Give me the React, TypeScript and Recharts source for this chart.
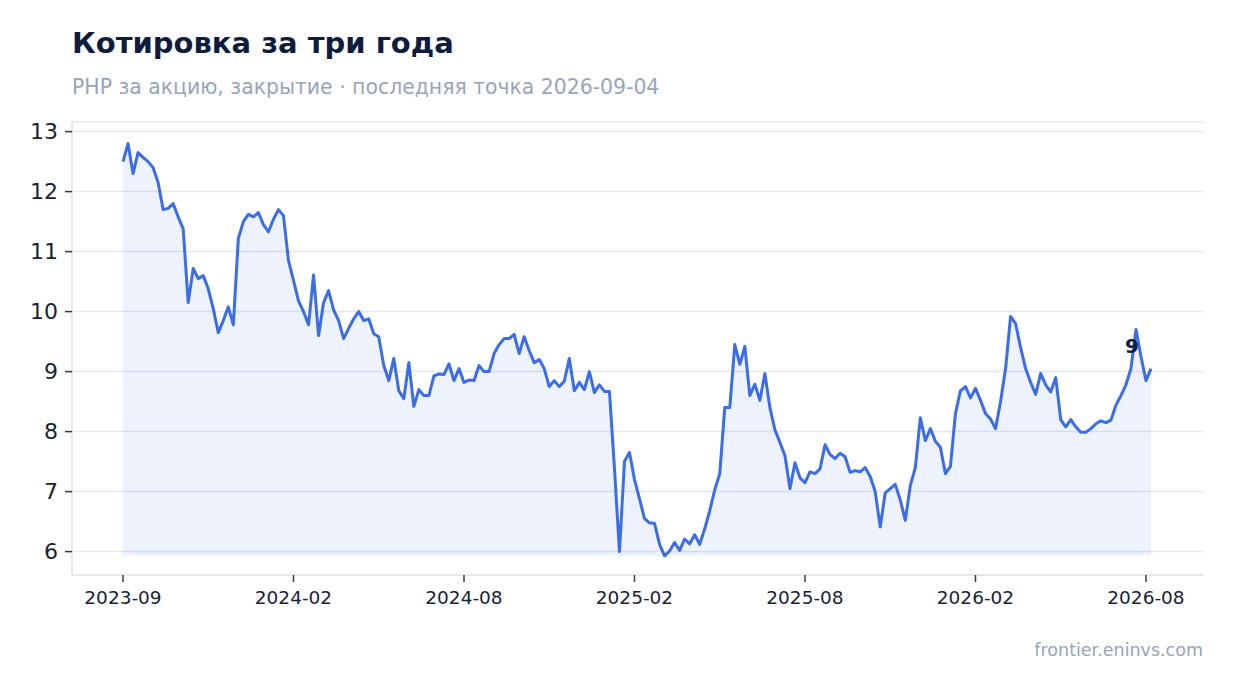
import {
  Area,
  CartesianGrid,
  ComposedChart,
  ReferenceDot,
  XAxis,
  YAxis,
} from "recharts";

// closing prices, one point per ~5 trading days
const PRICES = [
  12.5, 12.8, 12.3, 12.65, 12.57, 12.5, 12.4, 12.15, 11.7, 11.72,
  11.8, 11.58, 11.38, 10.15, 10.72, 10.55, 10.6, 10.38, 10.05, 9.65,
  9.85, 10.08, 9.78, 11.22, 11.5, 11.62, 11.58, 11.65, 11.45, 11.33,
  11.54, 11.7, 11.6, 10.85, 10.52, 10.18, 10.0, 9.78, 10.61, 9.6,
  10.15, 10.35, 10.03, 9.85, 9.55, 9.72, 9.88, 10.0, 9.85, 9.88,
  9.63, 9.58, 9.1, 8.85, 9.22, 8.68, 8.55, 9.15, 8.42, 8.7,
  8.6, 8.6, 8.93, 8.96, 8.95, 9.13, 8.85, 9.05, 8.82, 8.86,
  8.85, 9.1, 9.0, 9.0, 9.3, 9.45, 9.55, 9.55, 9.62, 9.3,
  9.58, 9.35, 9.15, 9.2, 9.05, 8.75, 8.85, 8.75, 8.84, 9.22,
  8.68, 8.82, 8.7, 9.0, 8.65, 8.78, 8.67, 8.67, 7.4, 6.0,
  7.5, 7.65, 7.2, 6.88, 6.55, 6.48, 6.47, 6.12, 5.93, 6.01,
  6.15, 6.02, 6.21, 6.13, 6.28, 6.12, 6.38, 6.68, 7.03, 7.3,
  8.4, 8.4, 9.45, 9.12, 9.42, 8.6, 8.79, 8.52, 8.97, 8.4,
  8.03, 7.82, 7.6, 7.05, 7.48, 7.23, 7.15, 7.33, 7.3, 7.38,
  7.78, 7.62, 7.55, 7.64, 7.58, 7.32, 7.35, 7.33, 7.4, 7.25,
  7.0, 6.41, 6.98, 7.05, 7.12, 6.86, 6.52, 7.1, 7.4, 8.23,
  7.85, 8.05, 7.84, 7.74, 7.3, 7.42, 8.3, 8.68, 8.75, 8.56,
  8.72, 8.52, 8.3, 8.21, 8.05, 8.5, 9.05, 9.92, 9.8, 9.4,
  9.05, 8.82, 8.62, 8.97, 8.78, 8.66, 8.9, 8.2, 8.08, 8.2,
  8.08, 7.99, 7.99, 8.05, 8.13, 8.18, 8.15, 8.19, 8.44, 8.6,
  8.78, 9.05, 9.7, 9.25, 8.85, 9.05,
];

const TICK_LABELS = [
  "2023-09",
  "2024-02",
  "2024-08",
  "2025-02",
  "2025-08",
  "2026-02",
  "2026-08",
];
const TICK_STEP = 34; // points between two date ticks

const Y_TICKS = [6, 7, 8, 9, 10, 11, 12, 13];

const PEAK_LABEL = "9";
const PEAK_INDEX = 202;

const FONT = '"DejaVu Sans", sans-serif';
const BLUE = "#3b6de8";
const INK = "#0f1c3f";
const TICK_INK = "#1a2236";
const MUTED = "#97a5ba";
const RULE = "#e4e8f0";

const data = PRICES.map((price, i) => ({ i, price }));
const minPrice = Math.min(...PRICES);
const xTicks = TICK_LABELS.map((_, k) => k * TICK_STEP);

export default function App() {
  return (
    <div
      style={{
        position: "relative",
        width: 1234,
        height: 693,
        background: "#fff",
        fontFamily: FONT,
        overflow: "hidden",
      }}
    >
      <style>{"body{margin:0}"}</style>
      <ComposedChart
        width={1234}
        height={693}
        data={data}
        margin={{ top: 122, right: 31, bottom: 78, left: 12 }}
      >
        <CartesianGrid vertical={false} stroke={RULE} strokeWidth={1.5} />
        <XAxis
          dataKey="i"
          type="number"
          domain={[0, PRICES.length - 1]}
          ticks={xTicks}
          tickFormatter={(v: number) => TICK_LABELS[Math.round(v / TICK_STEP)]}
          padding={{ left: 51, right: 52 }}
          height={40}
          axisLine={{ stroke: RULE, strokeWidth: 2 }}
          tickLine={{ stroke: "#333a48", strokeWidth: 1.5 }}
          tickSize={7}
          tickMargin={9}
          tick={{ fontSize: 18.5, fill: TICK_INK, fontFamily: FONT }}
        />
        <YAxis
          type="number"
          domain={[5.61, 13.16]}
          allowDataOverflow
          ticks={Y_TICKS}
          width={60}
          axisLine={{ stroke: RULE, strokeWidth: 2 }}
          tickLine={{ stroke: "#333a48", strokeWidth: 1.5 }}
          tickSize={7}
          tickMargin={7}
          tick={{ fontSize: 22, fill: TICK_INK, fontFamily: FONT }}
        />
        <Area
          type="linear"
          dataKey="price"
          baseValue={minPrice}
          stroke={BLUE}
          strokeWidth={3}
          fill={BLUE}
          fillOpacity={0.09}
          strokeLinejoin="round"
          isAnimationActive={false}
        />
        <ReferenceDot
          x={PEAK_INDEX}
          y={PRICES[PEAK_INDEX]}
          r={0}
          stroke="none"
          label={{
            value: PEAK_LABEL,
            position: "bottom",
            offset: 9,
            dx: -4,
            fill: INK,
            fontSize: 20,
            fontWeight: 700,
            fontFamily: FONT,
          }}
        />
      </ComposedChart>

      <div
        style={{
          position: "absolute",
          left: 72,
          top: 26,
          fontSize: 29,
          fontWeight: 700,
          color: INK,
          lineHeight: 1.2,
        }}
      >
        Котировка за три года
      </div>
      <div
        style={{
          position: "absolute",
          left: 72,
          top: 75,
          fontSize: 20.4,
          color: MUTED,
          lineHeight: 1.2,
        }}
      >
        РНР за акцию, закрытие · последняя точка 2026-09-04
      </div>
      <div
        style={{
          position: "absolute",
          right: 31,
          top: 640,
          fontSize: 17.5,
          color: MUTED,
          lineHeight: 1.2,
        }}
      >
        frontier.eninvs.com
      </div>
    </div>
  );
}
